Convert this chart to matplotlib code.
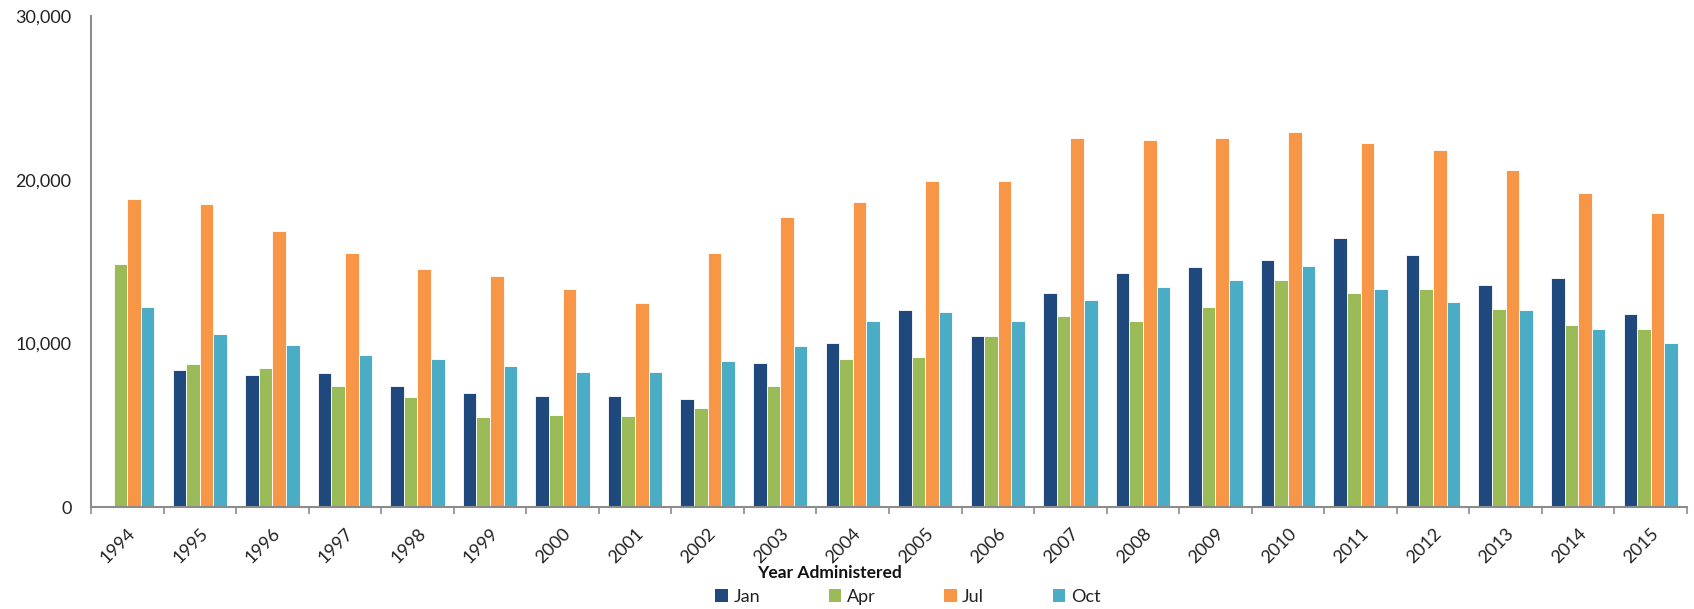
import matplotlib
matplotlib.use("Agg")
import matplotlib.pyplot as plt
import numpy as np
from matplotlib.patches import Patch
from matplotlib.ticker import FuncFormatter

plt.rcParams["font.family"] = ["Lato", "DejaVu Sans"]

years = [str(y) for y in range(1994, 2016)]
jan = [np.nan, 8390, 8040, 8170, 7390, 6940, 6760, 6760, 6620, 8820, 10040,
       12010, 10470, 13090, 14310, 14640, 15070, 16410, 15410, 13540, 13970, 11790]
apr = [14870, 8720, 8490, 7390, 6740, 5520, 5640, 5540, 6070, 7390, 9040,
       9140, 10470, 11670, 11340, 12220, 13870, 13090, 13320, 12110, 11120, 10890]
jul = [18840, 18490, 16840, 15540, 14540, 14110, 13340, 12460, 15540, 17740, 18610,
       19910, 19930, 22560, 22440, 22560, 22890, 22240, 21790, 20570, 19160, 17940]
oct_ = [12220, 10590, 9920, 9270, 9040, 8590, 8270, 8270, 8940, 9810, 11340,
        11890, 11340, 12670, 13440, 13870, 14740, 13320, 12540, 12010, 10890, 10020]

series = [("Jan", jan, "#1F497D"), ("Apr", apr, "#9BBB59"),
          ("Jul", jul, "#F79646"), ("Oct", oct_, "#4BACC6")]

fig = plt.figure(figsize=(16.94, 6.09), dpi=100)
ax = fig.add_axes([91 / 1694, 1 - 507 / 609, (1687 - 91) / 1694, (507 - 16) / 609])

x = np.arange(len(years))
w = 0.1875
for i, (name, vals, color) in enumerate(series):
    ax.bar(x + (i - 1.5) * w, vals, width=w, color=color,
           edgecolor="white", linewidth=0.6, label=name)

ax.set_xlim(-0.5, len(years) - 0.5)
ax.set_ylim(0, 30000)
ax.set_yticks([0, 10000, 20000, 30000])
ax.yaxis.set_major_formatter(FuncFormatter(lambda v, p: f"{int(v):,}"))
ax.tick_params(axis="y", length=0, pad=14, labelsize=13, labelcolor="#222222")

ax.set_xticks(x)
ax.set_xticklabels(years, rotation=45, ha="right", rotation_mode="anchor")
ax.set_xticks(np.arange(len(years) + 1) - 0.5, minor=True)
ax.tick_params(axis="x", which="major", length=0, pad=13, labelsize=13,
               labelcolor="#222222")
ax.tick_params(axis="x", which="minor", length=5, width=1.2, color="#8c8c8c",
               direction="out")

for side in ("top", "right"):
    ax.spines[side].set_visible(False)
for side in ("left", "bottom"):
    ax.spines[side].set_color("#8c8c8c")
    ax.spines[side].set_linewidth(1.5)

fig.text(829 / 1694, 1 - 573 / 609, "Year Administered", ha="center", va="center",
         fontsize=12.5, fontweight="bold", color="#111111")

handles = [Patch(facecolor=c, edgecolor="none") for _, _, c in series]
fig.legend(handles, [s[0] for s in series], loc="center", ncol=4,
           bbox_to_anchor=(908 / 1694, 1 - 597 / 609), frameon=False,
           fontsize=13, handlelength=0.7, handleheight=0.7,
           handletextpad=0.3, columnspacing=3.8, labelcolor="#222222")

fig.savefig("out.png", dpi=100)
